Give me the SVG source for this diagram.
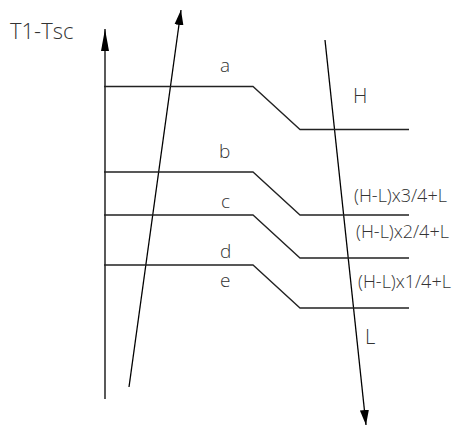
<svg xmlns="http://www.w3.org/2000/svg" width="460" height="427" viewBox="0 0 460 427">
<style>
.ax{stroke:#000;stroke-width:1.3;fill:none}
.lv{stroke:#222;stroke-width:1.3;fill:none}
.t{font-family:"Open Sans","Liberation Sans",sans-serif;font-weight:300;fill:#333}
</style>
<defs>
<marker id="ah" markerUnits="userSpaceOnUse" markerWidth="24" markerHeight="10" refX="22" refY="4" orient="auto" viewBox="0 0 24 8">
<path d="M0,0 L22,4 L0,8 Z" fill="#000"/>
</marker>
<marker id="ah2" markerUnits="userSpaceOnUse" markerWidth="16" markerHeight="10" refX="15" refY="4.5" orient="auto" viewBox="0 0 16 9">
<path d="M0,0 L15,4.5 L0,9 Z" fill="#000"/>
</marker>
</defs>
<rect width="460" height="427" fill="#fff"/>
<g id="connectors">
<line id="axis" class="ax" x1="105" y1="399" x2="105" y2="29" marker-end="url(#ah)"/>
<line id="rise" class="ax" x1="129" y1="387" x2="181" y2="10" marker-end="url(#ah2)"/>
<line id="fall" class="ax" x1="325" y1="40" x2="366" y2="425" marker-end="url(#ah2)"/>
</g>
<g id="levels">
<polyline id="level-a" class="lv" points="104,86.5 253,86.5 300,129.5 409,129.5"/>
<polyline id="level-b" class="lv" points="104,172 253,172 300,215 409,215"/>
<polyline id="level-c" class="lv" points="104,215 253,215 300,258 409,258"/>
<polyline id="level-d" class="lv" points="104,265 253,265 300,308 409,308"/>
</g>
<g id="labels">
<text class="t" x="10" y="39" font-size="22">T1-Tsc</text>
<text class="t" x="220" y="72" font-size="19">a</text>
<text class="t" x="219" y="158" font-size="19">b</text>
<text class="t" x="221" y="208" font-size="19">c</text>
<text class="t" x="220" y="258" font-size="19">d</text>
<text class="t" x="220" y="287" font-size="19">e</text>
<text class="t" x="353" y="103" font-size="20">H</text>
<text class="t" x="365" y="344" font-size="20">L</text>
<text class="t" x="354" y="202" font-size="18">(H-L)x3/4+L</text>
<text class="t" x="356" y="238" font-size="18">(H-L)x2/4+L</text>
<text class="t" x="358" y="288" font-size="18">(H-L)x1/4+L</text>
</g>
</svg>
